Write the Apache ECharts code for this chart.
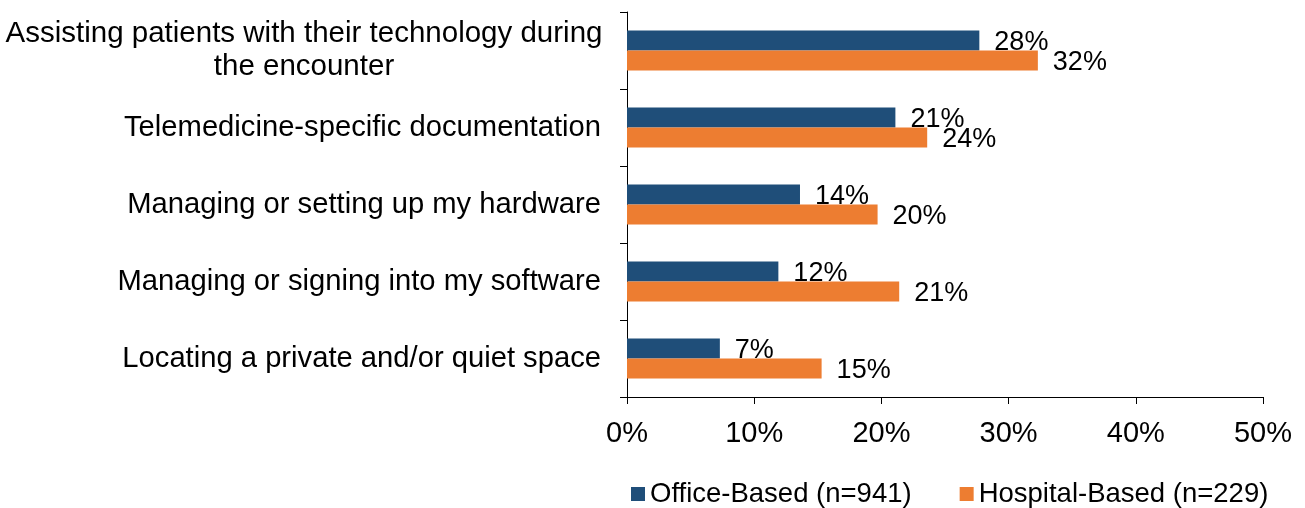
<!DOCTYPE html>
<html>
<head>
<meta charset="utf-8">
<script src="https://cdn.jsdelivr.net/npm/echarts@6/dist/echarts.min.js"></script>
<style>
    html, body { margin: 0; padding: 0; background: #fff; }
    #chart { width: 1305px; height: 508px; }
</style>
</head>
<body>
<div id="chart"></div>
<script>
// categories top to bottom
const categories = [
    'Assisting patients with their technology during\nthe encounter',
    'Telemedicine-specific documentation',
    'Managing or setting up my hardware',
    'Managing or signing into my software',
    'Locating a private and/or quiet space'
];
const officeValues = [27.7, 21.1, 13.6, 11.9, 7.3];
const hospitalValues = [32.3, 23.6, 19.7, 21.4, 15.3];
const seriesNames = ['Office-Based (n=941)', 'Hospital-Based (n=229)'];
const xTicks = [0, 10, 20, 30, 40, 50];

const font = '"Liberation Sans", Arial, sans-serif';

var myChart = echarts.init(document.getElementById('chart'));

function barLabel() {
    return {
        show: true,
        position: 'right',
        distance: 15,
        offset: [0, 2],
        color: '#000',
        fontSize: 27,
        fontFamily: font,
        formatter: function (p) {
            return Math.round(p.value) + '%';
        }
    };
}

var option = {
    animation: false,
    legend: {
        data: seriesNames,
        left: 626,
        top: 475,
        icon: 'rect',
        itemWidth: 14,
        itemHeight: 14,
        itemGap: 48,
        textStyle: { color: '#000', fontSize: 27.5, fontFamily: font }
    },
    grid: {
        left: 627,
        right: 42,
        top: 12,
        bottom: 111
    },
    xAxis: {
        type: 'value',
        min: xTicks[0],
        max: xTicks[xTicks.length - 1],
        interval: 10,
        splitLine: { show: false },
        axisLine: { show: true, lineStyle: { color: '#000', width: 1 } },
        axisTick: { show: true, length: 7, lineStyle: { color: '#000' } },
        axisLabel: {
            margin: 22,
            color: '#000',
            fontSize: 29,
            fontFamily: font,
            formatter: '{value}%'
        }
    },
    yAxis: {
        type: 'category',
        inverse: true,
        data: categories,
        axisLine: { show: true, lineStyle: { color: '#000', width: 1 } },
        axisTick: { show: true, length: 7, lineStyle: { color: '#000' } },
        axisLabel: {
            margin: 26,
            color: '#000',
            fontSize: 29.2,
            fontFamily: font,
            lineHeight: 33,
            formatter: function (v) {
                if (v.indexOf('\n') >= 0) {
                    return '{c|' + v + '}';
                }
                return v;
            },
            rich: {
                c: {
                    width: 594,
                    align: 'center',
                    fontSize: 29.5,
                    lineHeight: 33,
                    fontFamily: font,
                    color: '#000'
                }
            }
        }
    },
    series: [
        {
            name: seriesNames[0],
            type: 'bar',
            data: officeValues,
            barWidth: 20,
            barGap: '0%',
            itemStyle: { color: '#1F4E79' },
            label: barLabel()
        },
        {
            name: seriesNames[1],
            type: 'bar',
            data: hospitalValues,
            barWidth: 20,
            barGap: '0%',
            itemStyle: { color: '#ED7D31' },
            label: barLabel()
        }
    ]
};

myChart.setOption(option);
</script>
</body>
</html>
